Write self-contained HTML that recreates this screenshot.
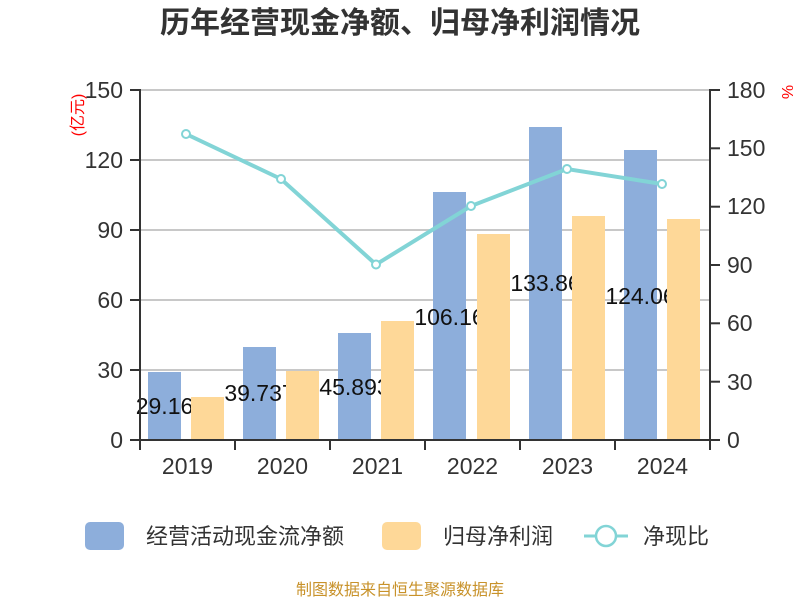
<!DOCTYPE html>
<html><head><meta charset="utf-8"><style>
html,body{margin:0;padding:0;background:#fff}
svg{display:block}
text{font-family:"Liberation Sans","Noto Sans CJK SC",sans-serif}
</style></head><body>
<svg width="800" height="600" viewBox="0 0 800 600" xmlns="http://www.w3.org/2000/svg">
<text x="400" y="33" text-anchor="middle" font-size="30" font-weight="bold" fill="#333">历年经营现金净额、归母净利润情况</text>
<g stroke="#c8c8c8" stroke-width="2">
<line x1="140" y1="90" x2="710" y2="90"/>
<line x1="140" y1="160" x2="710" y2="160"/>
<line x1="140" y1="230" x2="710" y2="230"/>
<line x1="140" y1="300" x2="710" y2="300"/>
<line x1="140" y1="370" x2="710" y2="370"/>
</g>
<g fill="#8daedb">
<rect x="148" y="372" width="33" height="68"/>
<rect x="243" y="347" width="33" height="93"/>
<rect x="338" y="333" width="33" height="107"/>
<rect x="433" y="192" width="33" height="248"/>
<rect x="529" y="127" width="33" height="313"/>
<rect x="624" y="150" width="33" height="290"/>
</g>
<g font-size="23" fill="#111" text-anchor="middle">
<text x="164.5" y="414">29.16</text>
<text x="259.5" y="401">39.737</text>
<text x="354.5" y="395">45.893</text>
<text x="449.5" y="325">106.16</text>
<text x="545.5" y="291">133.86</text>
<text x="640.5" y="304">124.06</text>
</g>
<g fill="#fed898">
<rect x="191" y="397" width="33" height="43"/>
<rect x="286" y="371" width="33" height="69"/>
<rect x="381" y="321" width="33" height="119"/>
<rect x="477" y="234" width="33" height="206"/>
<rect x="572" y="216" width="33" height="224"/>
<rect x="667" y="219" width="33" height="221"/>
</g>
<g stroke="#333" stroke-width="2">
<line x1="140" y1="89" x2="140" y2="441"/>
<line x1="710" y1="89" x2="710" y2="441"/>
<line x1="139" y1="440" x2="711" y2="440"/>
<line x1="130" y1="90" x2="140" y2="90"/><line x1="130" y1="160" x2="140" y2="160"/><line x1="130" y1="230" x2="140" y2="230"/><line x1="130" y1="300" x2="140" y2="300"/><line x1="130" y1="370" x2="140" y2="370"/><line x1="130" y1="440" x2="140" y2="440"/>
<line x1="710" y1="90" x2="720" y2="90"/><line x1="710" y1="148.3" x2="720" y2="148.3"/><line x1="710" y1="206.7" x2="720" y2="206.7"/><line x1="710" y1="265" x2="720" y2="265"/><line x1="710" y1="323.3" x2="720" y2="323.3"/><line x1="710" y1="381.7" x2="720" y2="381.7"/><line x1="710" y1="440" x2="720" y2="440"/>
<line x1="140" y1="440" x2="140" y2="450"/><line x1="235" y1="440" x2="235" y2="450"/><line x1="330" y1="440" x2="330" y2="450"/><line x1="425" y1="440" x2="425" y2="450"/><line x1="520" y1="440" x2="520" y2="450"/><line x1="615" y1="440" x2="615" y2="450"/><line x1="710" y1="440" x2="710" y2="450"/>
</g>
<g font-size="23" fill="#333" text-anchor="end">
<text x="123" y="98">150</text><text x="123" y="168">120</text><text x="123" y="238">90</text><text x="123" y="308">60</text><text x="123" y="378">30</text><text x="123" y="448">0</text>
</g>
<g font-size="23" fill="#333" text-anchor="start">
<text x="727" y="98">180</text><text x="727" y="156">150</text><text x="727" y="214">120</text><text x="727" y="273">90</text><text x="727" y="331">60</text><text x="727" y="390">30</text><text x="727" y="448">0</text>
</g>
<g font-size="23" fill="#333" text-anchor="middle">
<text x="187.5" y="474">2019</text><text x="282.5" y="474">2020</text><text x="377.5" y="474">2021</text><text x="472.5" y="474">2022</text><text x="567.5" y="474">2023</text><text x="662.5" y="474">2024</text>
</g>
<text transform="translate(83,115) rotate(-90)" font-size="16" fill="#f00" text-anchor="middle">(亿元)</text>
<text transform="translate(782,92) rotate(90)" font-size="16" fill="#f00" text-anchor="middle">%</text>
<polyline points="186,134 281,179 376,264.5 471,206 567,169 662,184" fill="none" stroke="#82d4d6" stroke-width="4"/>
<g fill="#fff" stroke="#82d4d6" stroke-width="2">
<circle cx="186" cy="134" r="4"/><circle cx="281" cy="179" r="4"/><circle cx="376" cy="264.5" r="4"/><circle cx="471" cy="206" r="4"/><circle cx="567" cy="169" r="4"/><circle cx="662" cy="184" r="4"/>
</g>
<rect x="85" y="522" width="39" height="28" rx="5" fill="#8daedb"/>
<text x="146" y="544" font-size="22" fill="#333">经营活动现金流净额</text>
<rect x="382" y="522" width="39" height="28" rx="5" fill="#fed898"/>
<text x="443" y="544" font-size="22" fill="#333">归母净利润</text>
<line x1="584" y1="536" x2="628" y2="536" stroke="#82d4d6" stroke-width="3"/>
<circle cx="606" cy="536" r="10" fill="#fff" stroke="#82d4d6" stroke-width="2.5"/>
<text x="643" y="544" font-size="22" fill="#333">净现比</text>
<text x="400" y="595" font-size="16" fill="#c8922a" text-anchor="middle">制图数据来自恒生聚源数据库</text>
</svg>
</body></html>
